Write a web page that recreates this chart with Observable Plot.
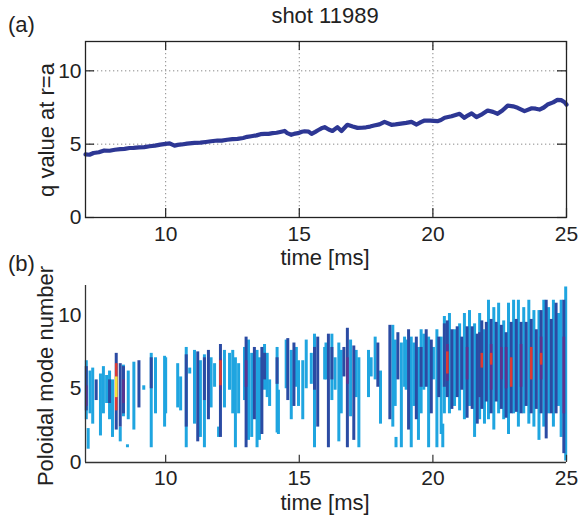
<!DOCTYPE html>
<html><head><meta charset="utf-8">
<script src="https://cdn.jsdelivr.net/npm/d3@7"></script>
<script src="https://cdn.jsdelivr.net/npm/@observablehq/plot@0.6"></script>
<style>
body{margin:0;background:#fff;}
#fig{position:relative;width:579px;height:517px;overflow:hidden;font-family:"Liberation Sans",Arial,sans-serif;color:#222;background:#fff;}
.lbl{position:absolute;font-size:22px;white-space:nowrap;line-height:1;}
.rot{position:absolute;font-size:22px;white-space:nowrap;line-height:1;transform:translate(-50%,-50%) rotate(-90deg);}
.wrap{position:absolute;left:0;}
</style></head><body>
<div id="fig">
  <div id="top" class="wrap" style="top:0px"></div>
  <div id="bot" class="wrap" style="top:262px"></div>
  <div class="lbl" style="left:8px;top:14px">(a)</div>
  <div class="lbl" style="left:325px;top:5px;transform:translateX(-50%)">shot 11989</div>
  <div class="lbl" style="left:325px;top:247px;transform:translateX(-50%)">time [ms]</div>
  <div class="lbl" style="left:8px;top:253px">(b)</div>
  <div class="lbl" style="left:325px;top:492px;transform:translateX(-50%)">time [ms]</div>
  <div class="rot" style="left:46.5px;top:130px">q value at r=a</div>
  <div class="rot" style="left:45.5px;top:376px">Poloidal mode number</div>
</div>
<script>
// ---- data ----
const timeTicks = [10, 15, 20, 25];
const qTicks = [0, 5, 10];
const modeTicks = [0, 5, 10];

const qTime = [7.0, 7.15, 7.3, 7.5, 7.7, 7.9, 8.1, 8.3, 8.46, 8.65, 8.8, 9.0, 9.2, 9.4, 9.6, 9.8, 10.0, 10.15, 10.33, 10.45, 10.6, 10.8, 11.08, 11.3, 11.5, 11.7, 11.94, 12.1, 12.3, 12.5, 12.69, 12.9, 13.05, 13.2, 13.4, 13.55, 13.7, 13.85, 14.0, 14.15, 14.33, 14.45, 14.55, 14.7, 14.85, 14.95, 15.1, 15.2, 15.35, 15.46, 15.6, 15.7, 15.83, 15.95, 16.1, 16.24, 16.43, 16.58, 16.8, 17.0, 17.18, 17.35, 17.5, 17.65, 17.8, 18.0, 18.19, 18.45, 18.6, 18.8, 19.0, 19.2, 19.39, 19.55, 19.69, 19.9, 20.17, 20.3, 20.44, 20.7, 21.0, 21.18, 21.3, 21.45, 21.63, 21.85, 22.05, 22.25, 22.42, 22.6, 22.8, 23.0, 23.17, 23.43, 23.7, 23.85, 23.99, 24.15, 24.29, 24.5, 24.66, 24.8, 24.93, 25.0];
const qValue = [4.3, 4.28, 4.4, 4.45, 4.57, 4.55, 4.62, 4.66, 4.68, 4.74, 4.75, 4.78, 4.8, 4.86, 4.9, 4.97, 5.02, 5.05, 4.9, 4.95, 4.98, 5.04, 5.09, 5.1, 5.15, 5.2, 5.25, 5.24, 5.3, 5.34, 5.36, 5.42, 5.5, 5.54, 5.6, 5.68, 5.7, 5.7, 5.75, 5.78, 5.85, 5.9, 5.75, 5.64, 5.72, 5.75, 5.85, 5.88, 5.86, 5.7, 5.84, 5.95, 6.08, 6.16, 6.0, 5.9, 6.16, 5.9, 6.32, 6.2, 6.11, 6.12, 6.15, 6.2, 6.27, 6.35, 6.52, 6.32, 6.35, 6.4, 6.45, 6.52, 6.34, 6.5, 6.61, 6.6, 6.57, 6.65, 6.8, 6.9, 7.07, 6.8, 6.95, 7.1, 6.84, 7.05, 7.29, 7.2, 7.07, 7.3, 7.63, 7.58, 7.48, 7.25, 7.45, 7.42, 7.36, 7.5, 7.7, 7.85, 8.02, 8.0, 7.86, 7.7];

// spectrogram bars: [time, low mode, high mode]
const lightBars = [
  [7.03,2.9,6.9],[7.10,0.9,2.3],[7.17,3.3,6.2],[7.27,2.6,6.4],[7.56,1.8,6.0],[7.67,3.3,6.5],[7.79,4.0,5.9],[7.90,2.9,6.2],[8.01,1.7,5.6],[8.30,1.4,2.4],[8.42,3.1,6.6],[8.57,1.0,1.2],[8.60,2.9,6.2],[8.81,2.2,6.8],[9.18,4.9,5.2],[9.46,1.0,7.4],[9.62,3.3,7.1],[9.96,2.4,7.2],
  [10.00,3.3,7.1],[10.45,3.7,6.7],[10.56,3.5,5.8],[10.77,1.0,7.8],[10.90,6.0,6.4],[11.08,2.6,7.6],[11.30,1.7,6.9],[11.45,1.0,7.3],[11.70,3.7,7.1],[11.83,5.1,6.7],[11.98,1.7,2.4],[12.20,3.7,7.6],[12.39,4.9,7.4],[12.51,3.3,7.6],[12.61,1.0,7.1],[12.73,3.3,6.7],[12.95,4.2,7.8],
  [13.10,1.5,8.3],[13.22,1.7,7.4],[13.42,1.0,7.6],[13.51,1.5,7.1],[13.70,4.9,8.0],[13.80,4.4,7.4],[13.89,3.8,5.6],[14.17,2.0,7.8],[14.22,1.9,4.9],[14.51,5.0,8.3],[14.70,2.9,7.6],[14.89,5.1,7.8],[14.97,3.8,6.9],[15.13,2.9,6.9],[15.26,5.0,8.3],[15.45,5.3,7.4],[15.57,1.0,8.7],[15.95,5.6,7.8],
  [16.00,5.6,8.1],[16.22,4.2,8.7],[16.34,4.9,7.1],[16.48,1.4,8.1],[16.57,3.3,7.6],[16.92,3.1,8.3],[17.13,4.4,7.6],[17.23,1.0,7.1],[17.59,4.4,7.6],[17.69,5.8,7.1],[17.84,5.6,8.5],[18.04,2.6,6.2],[18.50,2.4,9.3],[18.59,3.8,8.3],[18.62,1.0,1.7],[18.82,1.0,8.1],[18.94,5.1,8.5],
  [19.00,4.9,8.3],[19.19,1.0,8.5],[19.29,3.8,8.1],[19.46,1.5,7.8],[19.56,3.3,9.0],[19.66,4.9,8.7],[19.84,1.0,8.5],[20.02,5.6,7.8],[20.15,1.0,9.0],[20.31,1.9,8.5],[20.37,1.0,2.6],[20.43,3.3,9.9],[20.62,3.3,10.1],[20.81,3.8,9.0],[21.00,3.5,9.4],[21.18,2.9,10.1],[21.37,3.8,10.3],[21.56,1.7,9.4],[21.75,2.9,10.1],[21.93,2.6,9.0],
  [22.08,2.9,11.0],[22.28,2.2,10.5],[22.46,3.3,10.8],[22.65,2.9,9.6],[22.83,1.9,10.8],[23.02,3.3,11.0],[23.20,2.4,11.0],[23.40,3.3,10.5],[23.59,2.6,11.0],[23.78,2.4,10.3],[23.97,1.5,10.3],[24.15,2.4,11.0],[24.33,3.3,10.5],[24.51,2.4,11.0],[24.70,3.8,10.1],[24.80,1.7,11.0],[24.97,0.1,11.9]
];
const darkBars = [
  [7.03,3.5,6.5],[7.40,4.2,5.6],[7.90,4.0,5.6],[8.15,2.2,7.4],[8.30,2.4,6.7],[8.42,3.3,6.5],[9.00,3.7,6.9],[9.46,5.0,7.1],
  [10.77,2.4,7.3],[11.20,1.4,7.5],[11.45,4.2,7.1],[11.60,2.9,7.6],[12.05,1.7,8.0],
  [13.01,1.0,8.5],[13.32,2.9,7.8],[13.60,1.9,7.8],[13.70,5.6,7.4],[14.17,5.3,7.1],[14.57,4.2,8.4],[14.80,3.8,8.1],[15.57,4.9,7.8],[15.69,2.4,8.5],
  [16.09,1.0,8.7],[16.22,5.6,7.8],[16.67,5.8,7.8],[16.80,1.0,9.1],[17.04,1.5,7.9],[17.94,5.1,8.1],[18.39,2.9,9.3],[18.69,5.6,8.8],
  [19.09,2.2,9.0],[19.38,2.9,8.5],[19.56,5.1,7.8],[19.75,5.1,9.0],[19.94,3.3,8.3],[20.22,4.4,8.5],[20.43,5.1,9.4],[20.54,4.4,9.6],[20.71,3.6,9.0],[20.91,4.4,9.2],[21.08,4.9,8.5],[21.28,3.0,9.2],[21.47,3.6,9.2],[21.66,2.6,8.7],[21.75,4.4,8.8],[21.83,3.6,9.6],
  [22.00,4.1,9.5],[22.18,3.3,9.7],[22.37,4.1,9.5],[22.56,3.6,9.3],[22.74,3.0,8.8],[22.93,3.3,9.5],[23.12,3.4,9.7],[23.30,3.3,9.5],[23.49,3.8,9.5],[23.68,3.3,9.7],[23.87,3.6,9.0],[24.05,3.3,10.3],[24.24,1.6,11.0],[24.43,3.3,9.7],[24.61,3.3,10.8],[24.90,0.6,11.0]
];
const purpleBars = [
  [7.03,3.8,5.2],[8.42,4.0,5.6],[12.05,4.9,7.0],[13.01,5.1,6.9],[16.80,5.3,7.1],[20.54,5.5,8.0],[21.28,5.6,7.8],[22.18,4.9,8.0],[22.56,5.6,7.8],[22.74,5.0,7.8],[23.30,5.1,8.0],[24.05,5.6,8.5],[24.90,3.3,8.5]
];
const redBars = [
  [8.15,3.5,6.7],[12.05,5.2,6.9],[20.54,6.0,7.5],[21.83,6.4,7.4],[22.18,6.6,7.4],[22.93,5.1,7.1],[23.68,5.6,7.8],[24.05,6.6,7.4]
];
const yellowBars = [
  [8.15,4.4,5.8]
];
const levelColors = ["#1fa5e0", "#2b4ba3", "#5b3390", "#dc3a33", "#f3e33b"];

// ---- drawing ----
const font = {fontFamily: "'Liberation Sans', Arial, sans-serif", fontSize: "21px", color: "#222", background: "white"};
const tickPx = 9;
const plotW = 579 - 85 - 13;
const plotH = 176;
const xTickLen = tickPx * 18 / plotW;
const yTickLen = tickPx * 12 / plotH;

const qData = qTime.map((t, i) => ({t, q: qValue[i]}));
const gridStyle = {stroke: "#8a8a8a", strokeWidth: 1, strokeDasharray: "1.3,2.7"};
const tickStyle = {stroke: "#222", strokeWidth: 1.2};

const topPlot = Plot.plot({
  width: 579, height: 262,
  marginLeft: 85, marginRight: 13, marginTop: 41, marginBottom: 45,
  style: font,
  x: {domain: [7, 25], ticks: timeTicks, tickSize: 0, tickPadding: 9, label: null},
  y: {domain: [0, 12], ticks: qTicks, tickSize: 0, tickPadding: 4, label: null},
  marks: [
    Plot.ruleX(timeTicks.filter(v => v < 25), {x: d => d, ...gridStyle}),
    Plot.ruleY(qTicks.filter(v => v > 0), {y: d => d, ...gridStyle}),
    Plot.ruleX(timeTicks, {x: d => d, y1: 0, y2: yTickLen, ...tickStyle}),
    Plot.ruleX(timeTicks, {x: d => d, y1: 12 - yTickLen, y2: 12, ...tickStyle}),
    Plot.ruleY(qTicks, {y: d => d, x1: 7, x2: 7 + xTickLen, ...tickStyle}),
    Plot.ruleY(qTicks, {y: d => d, x1: 25 - xTickLen, x2: 25, ...tickStyle}),
    Plot.line(qData, {x: "t", y: "q", stroke: "#2d3794", strokeWidth: 4.2, strokeLinejoin: "round", strokeLinecap: "round"}),
    Plot.frame({stroke: "#222", strokeWidth: 1.3})
  ]
});
document.getElementById("top").appendChild(topPlot);

const levels = [lightBars, darkBars, purpleBars, redBars, yellowBars];
const botPlot = Plot.plot({
  width: 579, height: 255,
  marginLeft: 85, marginRight: 13, marginTop: 23, marginBottom: 55,
  style: font,
  x: {domain: [7, 25], ticks: timeTicks, tickSize: 0, tickPadding: 8, label: null},
  y: {domain: [0, 12], ticks: modeTicks, tickSize: 0, tickPadding: 4, label: null},
  marks: [
    ...levels.map((bars, i) => Plot.ruleX(bars, {x: d => d[0], y1: d => d[1], y2: d => d[2], stroke: levelColors[i], strokeWidth: i < 2 ? 3 : 2.6})),
    Plot.ruleX([7], {x: d => d, stroke: "#333", strokeWidth: 1.3}),
    Plot.ruleY([0], {y: d => d, stroke: "#333", strokeWidth: 1.3}),
    Plot.ruleX(timeTicks, {x: d => d, y1: 0, y2: yTickLen * 0.8, stroke: "#333", strokeWidth: 1.2})
  ]
});
document.getElementById("bot").appendChild(botPlot);
</script>
</body></html>
